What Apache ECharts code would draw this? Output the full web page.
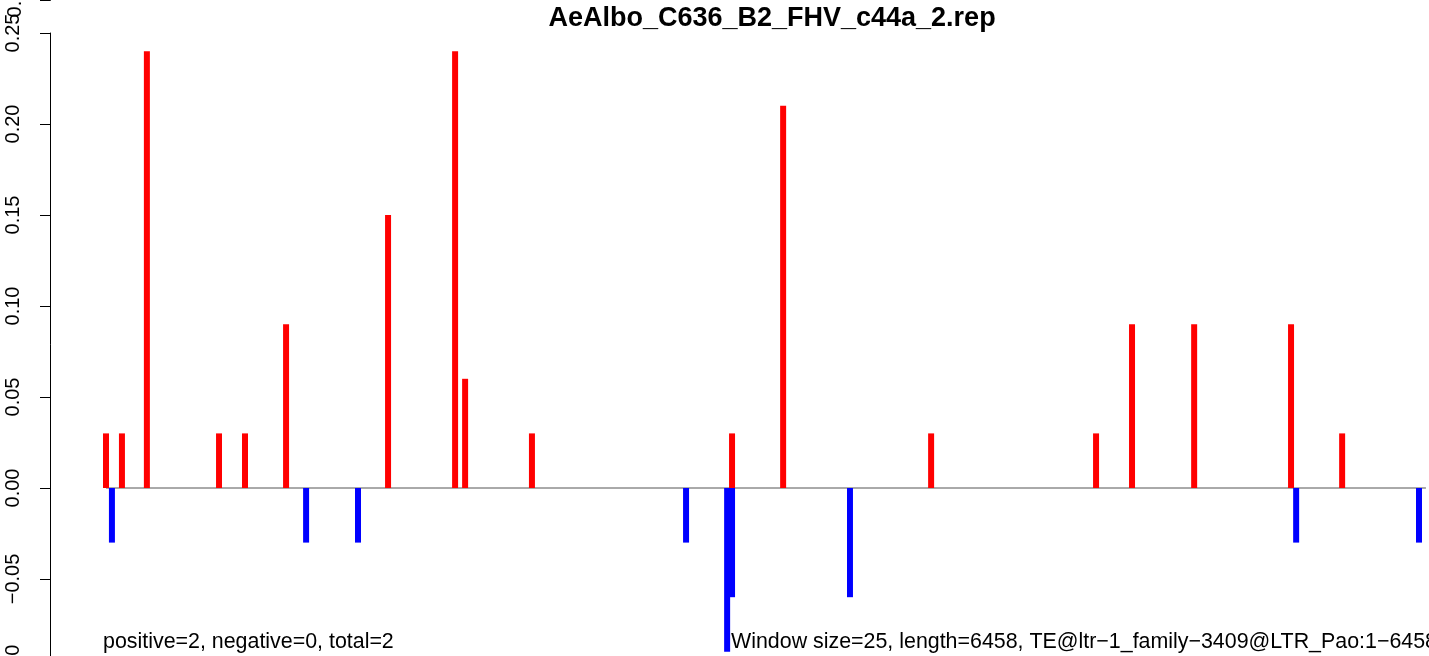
<!DOCTYPE html>
<html>
<head>
<meta charset="utf-8">
<script src="https://cdn.jsdelivr.net/npm/echarts@6/dist/echarts.min.js"></script>
<style>
html,body{margin:0;padding:0;background:#fff;}
#chart{width:1429px;height:656px;}
</style>
</head>
<body>
<div id="chart"></div>
<script>
// Data (position in bp along the TE, value)
const titleText = 'AeAlbo_C636_B2_FHV_c44a_2.rep';
const leftNote = 'positive=2, negative=0, total=2';
const rightNote = 'Window size=25, length=6458, TE@ltr\u22121_family\u22123409@LTR_Pao:1\u22126458';
const teLength = 6458;

const posPositions = [0, 78, 200, 553, 680, 881, 1380, 1708, 1757, 2084, 3063, 3313, 4037, 4844, 5020, 5324, 5798, 6048];
const posValues    = [0.03, 0.03, 0.24, 0.03, 0.03, 0.09, 0.15, 0.24, 0.06, 0.03, 0.03, 0.21, 0.03, 0.03, 0.09, 0.09, 0.09, 0.03];

const negPositions = [29, 979, 1233, 2838, 3039, 3063, 3640, 5823, 6424];
const negValues    = [-0.03, -0.03, -0.03, -0.03, -0.09, -0.06, -0.06, -0.03, -0.03];

const yTicks = [-0.10, -0.05, 0.00, 0.05, 0.10, 0.15, 0.20, 0.25];

const FONT = '"Liberation Sans", Arial, Helvetica, sans-serif';

const chart = echarts.init(document.getElementById('chart'), null, {renderer: 'canvas'});

const fmt = v => (v < 0 ? '\u2212' : '') + Math.abs(v).toFixed(2);

chart.setOption({
  animation: false,
  backgroundColor: '#ffffff',
  grid: {left: 50, width: 1379, top: 33, height: 637, containLabel: false, outerBoundsMode: 'none'},
  xAxis: {
    type: 'value',
    min: -274,
    max: 6473,
    show: false
  },
  yAxis: {
    type: 'value',
    min: yTicks[0],
    max: yTicks[yTicks.length - 1],
    interval: 0.05,
    axisLine: {show: true, onZero: false, lineStyle: {color: '#000', width: 1}},
    axisTick: {show: true, length: 10, lineStyle: {color: '#000', width: 1}},
    splitLine: {show: false},
    axisLabel: {
      rotate: 90,
      margin: 27,
      color: '#000',
      fontSize: 20,
      fontFamily: FONT,
      formatter: fmt
    }
  },
  series: [
    {
      type: 'line',
      data: [[0, 0], [teLength, 0]],
      symbol: 'none',
      silent: true,
      z: 1,
      lineStyle: {color: '#555555', width: 1}
    },
    {
      type: 'bar',
      name: 'positive',
      data: posPositions.map((p, i) => [p, posValues[i]]),
      barWidth: 6,
      barGap: '-100%',
      itemStyle: {color: '#FF0000'},
      z: 2
    },
    {
      type: 'bar',
      name: 'negative',
      data: negPositions.map((p, i) => [p, negValues[i]]),
      barWidth: 6,
      barGap: '-100%',
      itemStyle: {color: '#0000FF'},
      z: 2
    }
  ],
  graphic: [
    {
      type: 'text',
      x: 772, y: 19,
      style: {text: titleText, font: 'bold 27px ' + FONT, fill: '#000', align: 'center', verticalAlign: 'middle'}
    },
    {
      type: 'text',
      x: 103, y: 642,
      style: {text: leftNote, font: '21.4px ' + FONT, fill: '#000', align: 'left', verticalAlign: 'middle'}
    },
    {
      type: 'text',
      x: 731, y: 642,
      style: {text: rightNote, font: '21.4px ' + FONT, fill: '#000', align: 'left', verticalAlign: 'middle'}
    },
    {
      type: 'line',
      shape: {x1: 40, y1: 0.5, x2: 50.5, y2: 0.5},
      style: {stroke: '#000', lineWidth: 1}
    },
    {
      type: 'line',
      shape: {x1: 50.5, y1: -5, x2: 50.5, y2: 0.5},
      style: {stroke: '#000', lineWidth: 1}
    },
    {
      type: 'text',
      x: 15, y: -2,
      rotation: Math.PI / 2,
      style: {text: '0.30', font: '20px ' + FONT, fill: '#000', align: 'center', verticalAlign: 'middle'}
    }
  ]
});
</script>
</body>
</html>
